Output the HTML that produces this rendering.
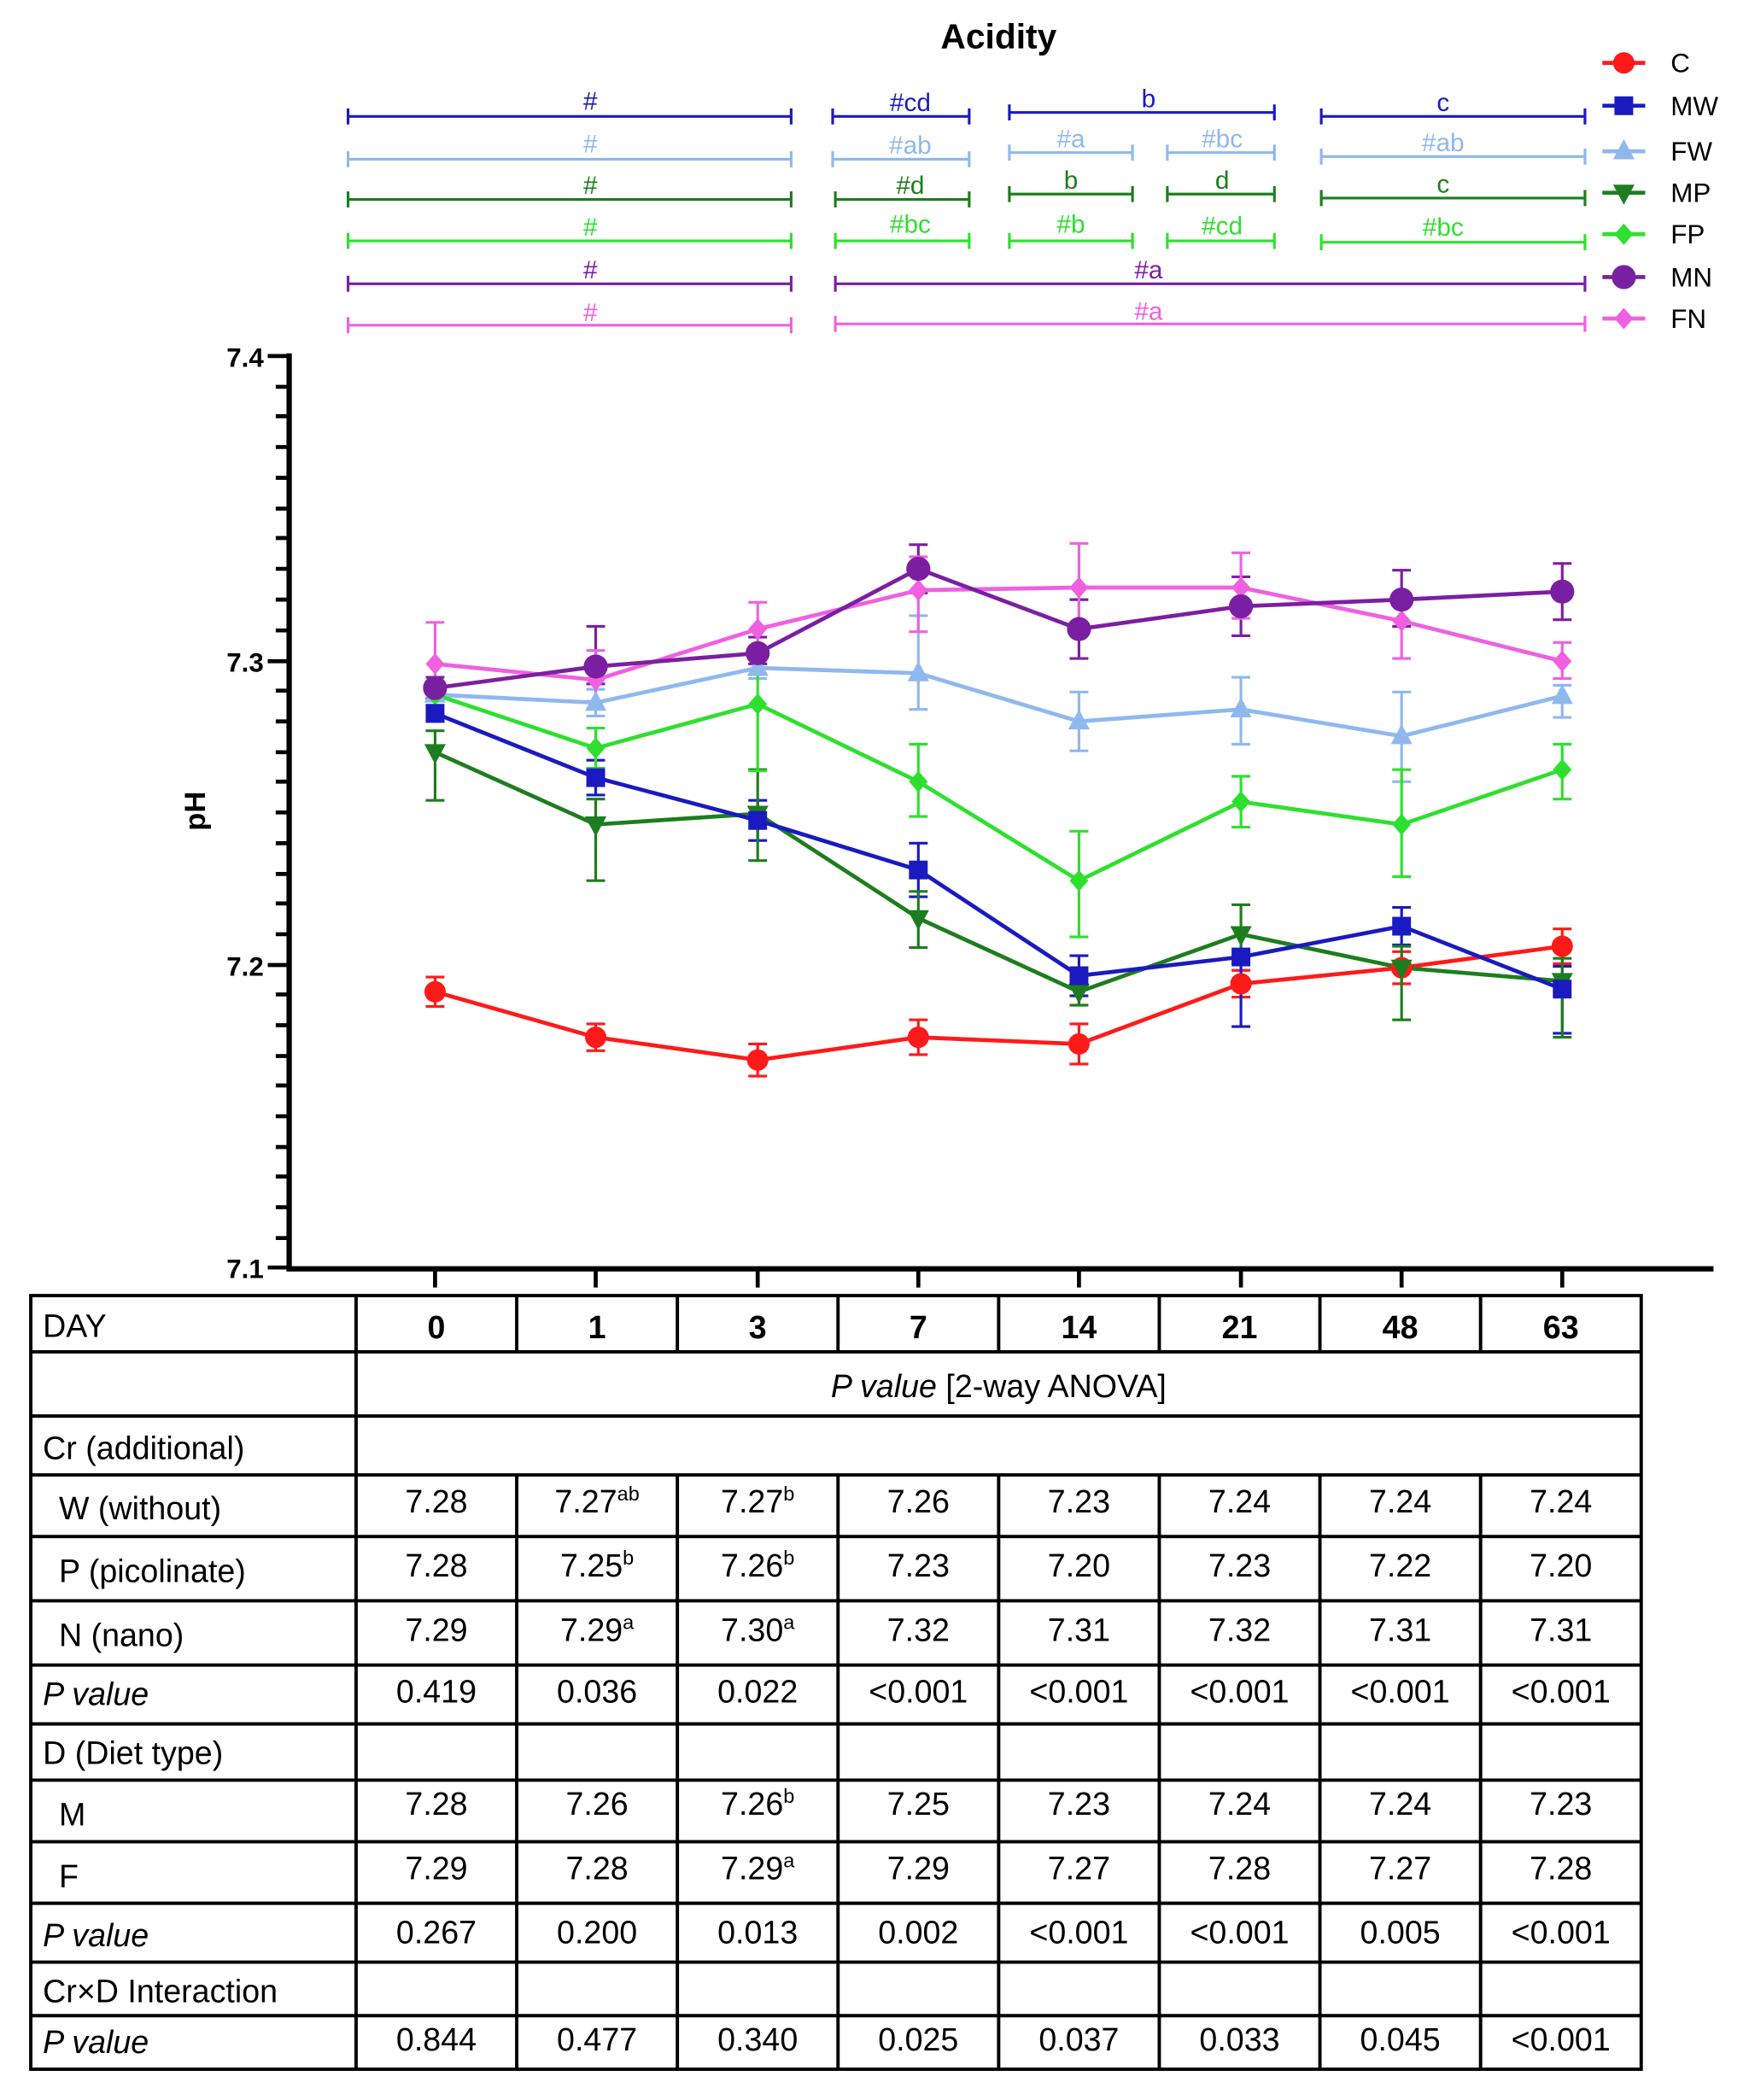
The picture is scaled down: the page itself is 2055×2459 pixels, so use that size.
<!DOCTYPE html>
<html><head><meta charset="utf-8"><style>html,body{margin:0;padding:0;background:#fff}svg{display:block}</style></head>
<body>
<svg width="2055" height="2459" viewBox="0 0 1311 1569" preserveAspectRatio="none" xmlns="http://www.w3.org/2000/svg" font-family="Liberation Sans, sans-serif">
<defs>
<circle id="mc" r="8"/>
<circle id="mn" r="9"/>
<rect id="ms" x="-7" y="-7" width="14" height="14"/>
<path id="mt" d="M0,-9 L8,6 L-8,6 Z"/>
<path id="md" d="M0,9 L8,-6 L-8,-6 Z"/>
<path id="mdi" d="M0,-8 L7,0 L0,8 L-7,0 Z"/>
</defs>
<text x="746" y="36" text-anchor="middle" font-size="26" font-weight="bold">Acidity</text>

<g font-size="19" text-anchor="middle" stroke-width="2" fill="none">
<g stroke="#1a1ac0"><path d="M260,87H591M260,81V93M591,81V93M622,87H724M622,81V93M724,81V93M754,84H952M754,78V90M952,78V90M987,87H1184M987,81V93M1184,81V93"/></g>
<g fill="#1a1ac0"><text x="441" y="82">#</text><text x="680" y="83">#cd</text><text x="858" y="80">b</text><text x="1078" y="83">c</text></g>
<g stroke="#8fb8ee"><path d="M260,119H591M260,113V125M591,113V125M622,119H724M622,113V125M724,113V125M754,114H846M754,108V120M846,108V120M872,114H952M872,108V120M952,108V120M987,117H1184M987,111V123M1184,111V123"/></g>
<g fill="#8fb8ee"><text x="441" y="114">#</text><text x="680" y="115">#ab</text><text x="800" y="110">#a</text><text x="913" y="110">#bc</text><text x="1078" y="113">#ab</text></g>
<g stroke="#1e7d1e"><path d="M260,149H591M260,143V155M591,143V155M624,149H724M624,143V155M724,143V155M754,145H846M754,139V151M846,139V151M872,145H952M872,139V151M952,139V151M987,148H1184M987,142V154M1184,142V154"/></g>
<g fill="#1e7d1e"><text x="441" y="145">#</text><text x="680" y="145">#d</text><text x="800" y="141">b</text><text x="913" y="141">d</text><text x="1078" y="144">c</text></g>
<g stroke="#2ee02e"><path d="M260,180H591M260,174V186M591,174V186M624,180H724M624,174V186M724,174V186M754,180H846M754,174V186M846,174V186M872,180H952M872,174V186M952,174V186M987,181H1184M987,175V187M1184,175V187"/></g>
<g fill="#2ee02e"><text x="441" y="176">#</text><text x="680" y="174">#bc</text><text x="800" y="174">#b</text><text x="913" y="175">#cd</text><text x="1078" y="176">#bc</text></g>
<g stroke="#7b1fa2"><path d="M260,212H591M260,206V218M591,206V218M624,212H1184M624,206V218M1184,206V218"/></g>
<g fill="#7b1fa2"><text x="441" y="208">#</text><text x="858" y="208">#a</text></g>
<g stroke="#f060e0"><path d="M260,243H591M260,237V249M591,237V249M624,242H1184M624,236V248M1184,236V248"/></g>
<g fill="#f060e0"><text x="441" y="240">#</text><text x="858" y="239">#a</text></g>
</g>

<g font-size="20" stroke-width="3">
<line x1="1197" y1="47" x2="1229" y2="47" stroke="#ff1a1a"/><use href="#mc" x="1213" y="47" fill="#ff1a1a"/><text x="1248" y="54">C</text>
<line x1="1197" y1="79" x2="1229" y2="79" stroke="#1a1ac0"/><use href="#ms" x="1213" y="79" fill="#1a1ac0"/><text x="1248" y="86">MW</text>
<line x1="1197" y1="113" x2="1229" y2="113" stroke="#8fb8ee"/><use href="#mt" x="1213" y="113" fill="#8fb8ee"/><text x="1248" y="120">FW</text>
<line x1="1197" y1="144" x2="1229" y2="144" stroke="#1e7d1e"/><use href="#md" x="1213" y="144" fill="#1e7d1e"/><text x="1248" y="151">MP</text>
<line x1="1197" y1="175" x2="1229" y2="175" stroke="#2ee02e"/><use href="#mdi" x="1213" y="175" fill="#2ee02e"/><text x="1248" y="182">FP</text>
<line x1="1197" y1="207" x2="1229" y2="207" stroke="#7b1fa2"/><use href="#mn" x="1213" y="207" fill="#7b1fa2"/><text x="1248" y="214">MN</text>
<line x1="1197" y1="238" x2="1229" y2="238" stroke="#f060e0"/><use href="#mdi" x="1213" y="238" fill="#f060e0"/><text x="1248" y="245">FN</text>
</g>

<g stroke="#000" fill="none">
<path d="M216,264V948H1280" stroke-width="4"/>
<path stroke-width="3" d="M216,266H200M216,494H200M216,721H200M216,947H200"/>
<path stroke-width="3" d="M216,289H206M216,311H206M216,334H206M216,357H206M216,380H206M216,402H206M216,425H206M216,448H206M216,471H206M216,516H206M216,539H206M216,562H206M216,584H206M216,607H206M216,630H206M216,653H206M216,675H206M216,698H206M216,743H206M216,766H206M216,789H206M216,811H206M216,834H206M216,857H206M216,879H206M216,902H206M216,925H206"/>
<path stroke-width="3" d="M325,948V962M445,948V962M566,948V962M686,948V962M806,948V962M927,948V962M1047,948V962M1167,948V962"/>
</g>
<g font-size="20" font-weight="bold" text-anchor="end">
<text x="197" y="274">7.4</text><text x="197" y="502">7.3</text><text x="197" y="729">7.2</text><text x="197" y="955">7.1</text>
</g>
<text transform="translate(153,606) rotate(-90)" text-anchor="middle" font-size="22" font-weight="bold">pH</text>

<g fill="none" stroke-width="2">
<path stroke="#ff1a1a" d="M325,730V752M318,730h14M318,752h14M445,765V785M438,765h14M438,785h14M566,780V804M559,780h14M559,804h14M686,762V788M679,762h14M679,788h14M806,765V795M799,765h14M799,795h14M927,725V745M920,725h14M920,745h14M1047,711V735M1040,711h14M1040,735h14M1167,694V720M1160,694h14M1160,720h14"/>
<path stroke="#1a1ac0" d="M325,527V539M318,527h14M318,539h14M445,568V594M438,568h14M438,594h14M566,598V628M559,598h14M559,628h14M686,630V670M679,630h14M679,670h14M806,714V744M799,714h14M799,744h14M927,693V767M920,693h14M920,767h14M1047,678V706M1040,678h14M1040,706h14M1167,722V772M1160,722h14M1160,772h14"/>
<path stroke="#8fb8ee" d="M325,511V527M318,511h14M318,527h14M445,515V535M438,515h14M438,535h14M566,491V507M559,491h14M559,507h14M686,460V530M679,460h14M679,530h14M806,517V561M799,517h14M799,561h14M927,506V556M920,506h14M920,556h14M1047,517V584M1040,517h14M1040,584h14M1167,512V536M1160,512h14M1160,536h14"/>
<path stroke="#1e7d1e" d="M325,546V598M318,546h14M318,598h14M445,597V658M438,597h14M438,658h14M566,575V643M559,575h14M559,643h14M686,666V708M679,666h14M679,708h14M806,731V751M799,731h14M799,751h14M927,676V720M920,676h14M920,720h14M1047,707V762M1040,707h14M1040,762h14M1167,716V775M1160,716h14M1160,775h14"/>
<path stroke="#2ee02e" d="M325,511V527M318,511h14M318,527h14M445,544V574M438,544h14M438,574h14M566,496V576M559,496h14M559,576h14M686,556V610M679,556h14M679,610h14M806,621V700M799,621h14M799,700h14M927,580V618M920,580h14M920,618h14M1047,575V655M1040,575h14M1040,655h14M1167,556V597M1160,556h14M1160,597h14"/>
<path stroke="#7b1fa2" d="M325,506V522M318,506h14M318,522h14M445,468V511M438,468h14M438,511h14M566,476V496M559,476h14M559,496h14M686,407V443M679,407h14M679,443h14M806,448V492M799,448h14M799,492h14M927,431V475M920,431h14M920,475h14M1047,426V468M1040,426h14M1040,468h14M1167,421V463M1160,421h14M1160,463h14"/>
<path stroke="#f060e0" d="M325,465V510M318,465h14M318,510h14M445,486V524M438,486h14M438,524h14M566,450V490M559,450h14M559,490h14M686,416V472M679,416h14M679,472h14M806,406V470M799,406h14M799,470h14M927,413V462M920,413h14M920,462h14M1047,450V492M1040,450h14M1040,492h14M1167,480V507M1160,480h14M1160,507h14"/>
</g>
<g fill="none" stroke-width="3">
<polyline stroke="#ff1a1a" points="325,741 445,775 566,792 686,775 806,780 927,735 1047,723 1167,707"/>
<polyline stroke="#8fb8ee" points="325,519 445,525 566,499 686,503 806,539 927,530 1047,550 1167,520"/>
<polyline stroke="#2ee02e" points="325,519 445,559 566,526 686,584 806,658 927,599 1047,616 1167,575"/>
<polyline stroke="#1e7d1e" points="325,562 445,616 566,608 686,686 806,741 927,698 1047,723 1167,733"/>
<polyline stroke="#1a1ac0" points="325,533 445,581 566,613 686,650 806,729 927,715 1047,692 1167,739"/>
<polyline stroke="#f060e0" points="325,496 445,508 566,470 686,441 806,439 927,439 1047,464 1167,494"/>
<polyline stroke="#7b1fa2" points="325,514 445,498 566,488 686,425 806,470 927,453 1047,448 1167,442"/>
</g>
<g fill="#ff1a1a"><use href="#mc" x="325" y="741"/><use href="#mc" x="445" y="775"/><use href="#mc" x="566" y="792"/><use href="#mc" x="686" y="775"/><use href="#mc" x="806" y="780"/><use href="#mc" x="927" y="735"/><use href="#mc" x="1047" y="723"/><use href="#mc" x="1167" y="707"/></g>
<g fill="#8fb8ee"><use href="#mt" x="325" y="519"/><use href="#mt" x="445" y="525"/><use href="#mt" x="566" y="499"/><use href="#mt" x="686" y="503"/><use href="#mt" x="806" y="539"/><use href="#mt" x="927" y="530"/><use href="#mt" x="1047" y="550"/><use href="#mt" x="1167" y="520"/></g>
<g fill="#2ee02e"><use href="#mdi" x="325" y="519"/><use href="#mdi" x="445" y="559"/><use href="#mdi" x="566" y="526"/><use href="#mdi" x="686" y="584"/><use href="#mdi" x="806" y="658"/><use href="#mdi" x="927" y="599"/><use href="#mdi" x="1047" y="616"/><use href="#mdi" x="1167" y="575"/></g>
<g fill="#1e7d1e"><use href="#md" x="325" y="562"/><use href="#md" x="445" y="616"/><use href="#md" x="566" y="608"/><use href="#md" x="686" y="686"/><use href="#md" x="806" y="741"/><use href="#md" x="927" y="698"/><use href="#md" x="1047" y="723"/><use href="#md" x="1167" y="733"/></g>
<g fill="#1a1ac0"><use href="#ms" x="325" y="533"/><use href="#ms" x="445" y="581"/><use href="#ms" x="566" y="613"/><use href="#ms" x="686" y="650"/><use href="#ms" x="806" y="729"/><use href="#ms" x="927" y="715"/><use href="#ms" x="1047" y="692"/><use href="#ms" x="1167" y="739"/></g>
<g fill="#f060e0"><use href="#mdi" x="325" y="496"/><use href="#mdi" x="445" y="508"/><use href="#mdi" x="566" y="470"/><use href="#mdi" x="686" y="441"/><use href="#mdi" x="806" y="439"/><use href="#mdi" x="927" y="439"/><use href="#mdi" x="1047" y="464"/><use href="#mdi" x="1167" y="494"/></g>
<g fill="#7b1fa2"><use href="#mn" x="325" y="514"/><use href="#mn" x="445" y="498"/><use href="#mn" x="566" y="488"/><use href="#mn" x="686" y="425"/><use href="#mn" x="806" y="470"/><use href="#mn" x="927" y="453"/><use href="#mn" x="1047" y="448"/><use href="#mn" x="1167" y="442"/></g>

<g stroke="#000" stroke-width="2.5" fill="none">
<rect x="23" y="968" width="1203" height="578"/>
<path d="M23,1010H1226M23,1058H1226M23,1102H1226M23,1148H1226M23,1196H1226M23,1244H1226M23,1288H1226M23,1330H1226M23,1376H1226M23,1422H1226M23,1466H1226M23,1506H1226"/>
<path d="M266,968V1546"/>
<path d="M386,968V1010M506,968V1010M626,968V1010M746,968V1010M866,968V1010M986,968V1010M1106,968V1010"/>
<path d="M386,1102V1546M506,1102V1546M626,1102V1546M746,1102V1546M866,1102V1546M986,1102V1546M1106,1102V1546"/>
</g>
<g font-size="24">
<text x="32" y="999">DAY</text>
<g font-weight="bold" text-anchor="middle"><text x="326" y="1000">0</text><text x="446" y="1000">1</text><text x="566" y="1000">3</text><text x="686" y="1000">7</text><text x="806" y="1000">14</text><text x="926" y="1000">21</text><text x="1046" y="1000">48</text><text x="1166" y="1000">63</text></g>
<text x="746" y="1044" text-anchor="middle"><tspan font-style="italic">P value</tspan> [2-way ANOVA]</text>
<text x="32" y="1090">Cr (additional)</text>
<text x="44" y="1135">W (without)</text>
<text x="44" y="1182">P (picolinate)</text>
<text x="44" y="1230">N (nano)</text>
<text x="32" y="1274" font-style="italic">P value</text>
<text x="32" y="1318">D (Diet type)</text>
<text x="44" y="1364">M</text>
<text x="44" y="1410">F</text>
<text x="32" y="1454" font-style="italic">P value</text>
<text x="32" y="1496">Cr×D Interaction</text>
<text x="32" y="1534" font-style="italic">P value</text>
<g text-anchor="middle">
<text x="326" y="1130">7.28</text><text x="446" y="1130">7.27<tspan font-size="15" dy="-9">ab</tspan></text><text x="566" y="1130">7.27<tspan font-size="15" dy="-9">b</tspan></text><text x="686" y="1130">7.26</text><text x="806" y="1130">7.23</text><text x="926" y="1130">7.24</text><text x="1046" y="1130">7.24</text><text x="1166" y="1130">7.24</text>
<text x="326" y="1178">7.28</text><text x="446" y="1178">7.25<tspan font-size="15" dy="-9">b</tspan></text><text x="566" y="1178">7.26<tspan font-size="15" dy="-9">b</tspan></text><text x="686" y="1178">7.23</text><text x="806" y="1178">7.20</text><text x="926" y="1178">7.23</text><text x="1046" y="1178">7.22</text><text x="1166" y="1178">7.20</text>
<text x="326" y="1226">7.29</text><text x="446" y="1226">7.29<tspan font-size="15" dy="-9">a</tspan></text><text x="566" y="1226">7.30<tspan font-size="15" dy="-9">a</tspan></text><text x="686" y="1226">7.32</text><text x="806" y="1226">7.31</text><text x="926" y="1226">7.32</text><text x="1046" y="1226">7.31</text><text x="1166" y="1226">7.31</text>
<text x="326" y="1272">0.419</text><text x="446" y="1272">0.036</text><text x="566" y="1272">0.022</text><text x="686" y="1272">&lt;0.001</text><text x="806" y="1272">&lt;0.001</text><text x="926" y="1272">&lt;0.001</text><text x="1046" y="1272">&lt;0.001</text><text x="1166" y="1272">&lt;0.001</text>
<text x="326" y="1356">7.28</text><text x="446" y="1356">7.26</text><text x="566" y="1356">7.26<tspan font-size="15" dy="-9">b</tspan></text><text x="686" y="1356">7.25</text><text x="806" y="1356">7.23</text><text x="926" y="1356">7.24</text><text x="1046" y="1356">7.24</text><text x="1166" y="1356">7.23</text>
<text x="326" y="1404">7.29</text><text x="446" y="1404">7.28</text><text x="566" y="1404">7.29<tspan font-size="15" dy="-9">a</tspan></text><text x="686" y="1404">7.29</text><text x="806" y="1404">7.27</text><text x="926" y="1404">7.28</text><text x="1046" y="1404">7.27</text><text x="1166" y="1404">7.28</text>
<text x="326" y="1452">0.267</text><text x="446" y="1452">0.200</text><text x="566" y="1452">0.013</text><text x="686" y="1452">0.002</text><text x="806" y="1452">&lt;0.001</text><text x="926" y="1452">&lt;0.001</text><text x="1046" y="1452">0.005</text><text x="1166" y="1452">&lt;0.001</text>
<text x="326" y="1532">0.844</text><text x="446" y="1532">0.477</text><text x="566" y="1532">0.340</text><text x="686" y="1532">0.025</text><text x="806" y="1532">0.037</text><text x="926" y="1532">0.033</text><text x="1046" y="1532">0.045</text><text x="1166" y="1532">&lt;0.001</text>
</g>
</g>
</svg>
</body></html>
